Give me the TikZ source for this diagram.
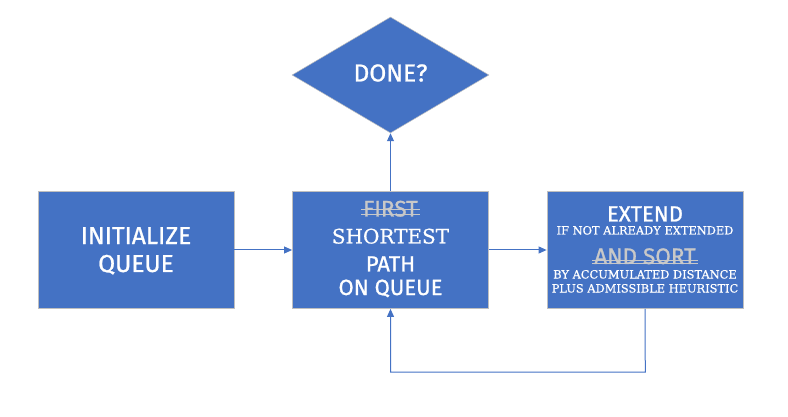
\documentclass[tikz,border=0pt]{standalone}
\usepackage{fontspec}
\setmainfont{Fira Sans}
\newfontfamily\medsans{Fira Sans}[FakeBold=0.9]
\newfontfamily\serifface{DejaVu Serif}[FakeBold=0.5]
\usetikzlibrary{arrows.meta,shapes.geometric}
\definecolor{boxblue}{HTML}{4472C4}
\definecolor{edgegray}{HTML}{BFBFBF}
\definecolor{strikegray}{HTML}{C8C8C8}
\tikzset{
  box/.style={draw=edgegray,line width=0.8pt,fill=boxblue,minimum width=196pt,minimum height=117pt,inner sep=0pt},
  dia/.style={diamond,draw=edgegray,line width=0.5pt,fill=boxblue,minimum width=197pt,minimum height=116pt,inner sep=0pt,aspect=1.7},
  big/.style={text=white,font=\medsans\fontsize{24.5}{26}\selectfont,inner sep=0pt},
  mid/.style={text=white,font=\medsans\fontsize{22}{24}\selectfont,inner sep=0pt},
  midserif/.style={text=white,font=\serifface\fontsize{20}{24}\selectfont,inner sep=0pt},
  struck/.style={text=strikegray,font=\medsans\fontsize{22.5}{24}\selectfont,inner sep=0pt},
  small/.style={text=white,font=\serifface\fontsize{11.4}{12}\selectfont,inner sep=0pt},
  conn/.style={draw=boxblue,line width=1pt,-{Triangle[length=8pt,width=7pt]}},
  strikeline/.style={draw=strikegray,line width=1pt}
}
\begin{document}
\begin{tikzpicture}[x=1pt,y=-1pt]
\useasboundingbox (0,0) rectangle (788,417);
\node[box] (init) at (136,250) {};
\node[box] (short) at (390.5,250) {};
\node[box] (ext) at (645,250) {};
\node[dia] (done) at (390.5,75) {};
\node[big] (donet) at (390.5,73) {DONE?};
\node[big,anchor=base] (initt) at (136,244) {INITIALIZE};
\node[big,anchor=base] (queuet) at (136,272) {QUEUE};
\node[struck,anchor=base] (first) at (390.5,216.5) {FIRST};
\node[midserif,anchor=base] (shortest) at (390.5,243.5) {SHORTEST};
\node[mid,anchor=base] (path) at (390.5,271.5) {PATH};
\node[mid,anchor=base] (onq) at (390.5,295) {ON QUEUE};
\node[mid,anchor=base] (extend) at (645,221.5) {EXTEND};
\node[small,anchor=base] (ifnot) at (645,234.5) {IF NOT ALREADY EXTENDED};
\node[struck,anchor=base] (andsort) at (645,264) {AND SORT};
\node[small,anchor=base] (byacc) at (645,278.5) {BY ACCUMULATED DISTANCE};
\node[small,anchor=base] (plus) at (645,292.5) {PLUS ADMISSIBLE HEURISTIC};
\draw[strikeline] ([xshift=-2pt,yshift=6.5pt]first.base west) -- ([xshift=2pt,yshift=6.5pt]first.base east);
\draw[strikeline] ([xshift=-2pt,yshift=2.2pt]first.base west) -- ([xshift=2pt,yshift=2.2pt]first.base east);
\draw[strikeline] ([xshift=-2pt,yshift=4pt]andsort.base west) -- ([xshift=2pt,yshift=4pt]andsort.base east);
\draw[strikeline] ([xshift=-2pt,yshift=0.7pt]andsort.base west) -- ([xshift=2pt,yshift=0.7pt]andsort.base east);
\coordinate (c1) at (645.3,372);
\coordinate (c2) at (390.5,372);
\draw[conn] (init.east) -- (short.west);
\draw[conn] (short.east) -- (ext.west);
\draw[conn] (short.north) -- (done.south);
\draw[conn] (ext.south) -- (c1) -- (c2) -- (short.south);
\end{tikzpicture}
\end{document}
